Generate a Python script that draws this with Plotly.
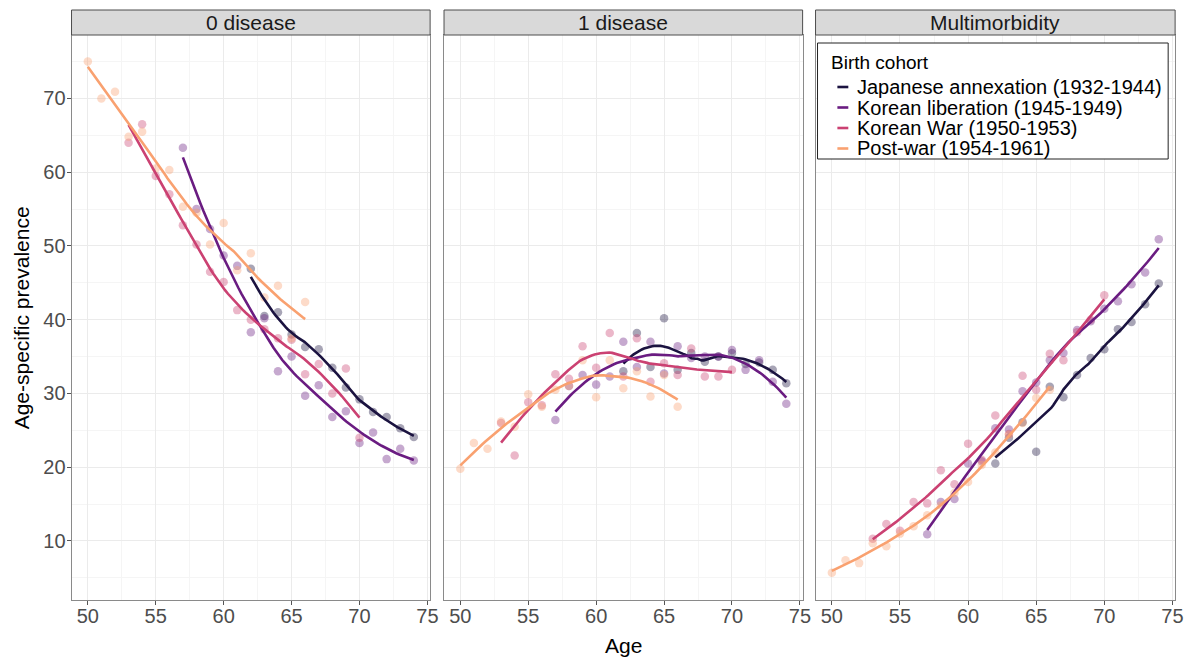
import numpy as np
import plotly.graph_objects as go

# ---------------- data ----------------
cohorts = ["Japanese annexation (1932-1944)", "Korean liberation (1945-1949)",
           "Korean War (1950-1953)", "Post-war (1954-1961)"]
colors = ["#1B1340", "#6A1C81", "#CB4172", "#F9A170"]
panels = ["0 disease", "1 disease", "Multimorbidity"]

ages_jap = list(range(62, 75))
ages_lib = list(range(57, 75))
ages_war = list(range(53, 71))
ages_post = list(range(50, 67))

# 0 disease
d0_jap = [46.9, 40.5, 41.0, 38.0, 36.3, 36.0, 33.5, 30.8, 29.2, 27.5, 26.8, 25.3, 24.1]
d0_lib = [63.3, 55.0, 52.3, 48.7, 47.3, 38.3, 40.2, 33.0, 35.0, 29.7, 31.1, 26.8, 27.6,
          23.3, 24.7, 21.1, 22.5, 20.9]
d0_war = [64.0, 66.5, 59.5, 57.0, 52.8, 50.2, 46.5, 45.1, 41.3, 40.0, 38.7, 37.5, 37.3,
          32.6, 34.0, 30.0, 33.4, 24.0]
d0_post = [75.0, 70.0, 70.9, 64.8, 65.5, 60.5, 60.3, 55.3, 54.5, 50.2, 53.1, 46.7, 49.0,
           43.0, 44.6, 37.5, 42.4]

# 1 disease
d1_jap = [33.0, 38.2, 33.6, 40.2, 33.2, 35.5, 34.3, 35.0, 35.5, 34.0, 34.2, 33.2, 31.4]
d1_lib = [26.4, 31.0, 32.5, 31.2, 32.3, 37.0, 33.6, 37.0, 32.7, 36.4, 34.8, 35.0, 35.0,
          35.9, 33.2, 34.5, 31.6, 28.6]
d1_war = [26.0, 21.6, 28.8, 28.4, 32.6, 32.0, 36.4, 33.5, 38.2, 32.3, 37.5, 31.6, 34.1,
          32.5, 36.1, 32.3, 32.3, 33.2]
d1_post = [19.8, 23.3, 22.5, 26.2, 25.5, 29.9, 28.2, 30.5, 31.0, 34.5, 29.5, 34.5, 30.7,
           33.0, 29.6, 32.5, 28.2]

# Multimorbidity
dm_jap = [20.5, 24.0, 26.1, 22.1, 30.9, 29.5, 32.5, 34.8, 36.0, 38.7, 39.7, 42.1, 44.9]
dm_lib = [10.9, 15.3, 15.7, 20.5, 20.8, 25.3, 25.1, 30.3, 31.5, 34.5, 35.5, 38.6, 39.8,
          41.5, 42.5, 44.8, 46.4, 50.9]
dm_war = [10.3, 12.3, 11.4, 15.3, 15.1, 19.6, 17.7, 23.2, 21.0, 27.0, 24.5, 32.4, 30.5,
          35.4, 34.5, 38.3, 40.0, 43.3]
dm_post = [5.7, 7.4, 7.0, 9.7, 9.3, 11.0, 12.0, 13.5, 14.8, 16.5, 18.0, 20.3, 22.0,
           24.4, 26.0, 29.4, 30.5]

x_ticks = [50, 55, 60, 65, 70, 75]
y_ticks = [10, 20, 30, 40, 50, 60, 70]

ages = [ages_jap, ages_lib, ages_war, ages_post]
values = [
    [d0_jap, d0_lib, d0_war, d0_post],
    [d1_jap, d1_lib, d1_war, d1_post],
    [dm_jap, dm_lib, dm_war, dm_post],
]


def loess(x, y, xs, span=0.75, degree=2):
    x = np.asarray(x, float)
    y = np.asarray(y, float)
    n = len(x)
    q = int(np.floor(n * span))
    out = []
    for x0 in xs:
        d = np.abs(x - x0)
        h = np.sort(d)[q - 1]
        w = np.clip(1 - (d / h) ** 3, 0, None) ** 3
        X = np.vander(x - x0, degree + 1, increasing=True)
        Wm = np.diag(w)
        beta = np.linalg.lstsq(X.T @ Wm @ X, X.T @ Wm @ y, rcond=None)[0]
        out.append(beta[0])
    return np.array(out)


# ---------------- figure ----------------
W, H = 1201, 659
px = lambda v: v / W
py = lambda v: (H - v) / H

dom_x = [(72, 433), (447, 808), (821, 1183)]
top, bottom = 35, 600
strip_top = 10
FONT = "Liberation Sans, Arial, sans-serif"

fig = go.Figure()

for p in range(3):
    xa = "x" if p == 0 else f"x{p + 1}"
    ya = "y" if p == 0 else f"y{p + 1}"
    for c in range(4):
        fig.add_trace(go.Scatter(
            x=ages[c], y=values[p][c], mode="markers",
            marker=dict(color=colors[c], size=8.5, opacity=0.38, line=dict(width=0)),
            xaxis=xa, yaxis=ya, showlegend=False, hoverinfo="skip"))
    for c in range(4):
        xs = np.linspace(min(ages[c]), max(ages[c]), 80)
        ys = loess(ages[c], values[p][c], xs)
        fig.add_trace(go.Scatter(
            x=xs, y=ys, mode="lines",
            line=dict(color=colors[c], width=2.6),
            xaxis=xa, yaxis=ya, name=cohorts[c], showlegend=False))

axis_common = dict(
    showline=True, mirror=True, linecolor="#8A8A8A", linewidth=1,
    showgrid=True, gridcolor="#EBEBEB", gridwidth=1, zeroline=False,
    ticks="outside", ticklen=4, tickcolor="#555555",
    tickfont=dict(family=FONT, size=20, color="#4D4D4D"),
)

layout = dict(
    width=W, height=H, margin=dict(l=0, r=0, t=0, b=0),
    plot_bgcolor="white", paper_bgcolor="white",
    font=dict(family=FONT), showlegend=False,
)
for p in range(3):
    xk = "xaxis" if p == 0 else f"xaxis{p + 1}"
    yk = "yaxis" if p == 0 else f"yaxis{p + 1}"
    x0, x1 = dom_x[p]
    layout[xk] = dict(
        axis_common, domain=[px(x0), px(x1)], range=[48.8, 75.2],
        tickmode="array", tickvals=x_ticks, ticktext=[str(t) for t in x_ticks],
        anchor="y" if p == 0 else f"y{p + 1}", ticklabelstandoff=-6,
        minor=dict(dtick=2.5, tick0=50, showgrid=True, gridcolor="#F5F5F5", ticks=""),
    )
    layout[yk] = dict(
        axis_common, domain=[py(bottom), py(top)], range=[2.0, 78.6],
        tickmode="array", tickvals=y_ticks,
        ticktext=[str(t) for t in y_ticks] if p == 0 else [""] * len(y_ticks),
        ticks="outside" if p == 0 else "", ticklabelstandoff=-3,
        anchor="x" if p == 0 else f"x{p + 1}",
        minor=dict(dtick=5, tick0=5, showgrid=True, gridcolor="#F5F5F5", ticks=""),
    )

fig.update_layout(**layout)

shapes = []
annotations = []
for p in range(3):
    x0, x1 = dom_x[p]
    shapes.append(dict(type="rect", xref="paper", yref="paper",
                       x0=px(x0), x1=px(x1), y0=py(top), y1=py(strip_top),
                       fillcolor="#D9D9D9", line=dict(color="#4D4D4D", width=1)))
    annotations.append(dict(text=panels[p], xref="paper", yref="paper",
                            x=px((x0 + x1) / 2), y=py((top + strip_top) / 2 + 0.5),
                            showarrow=False, xanchor="center", yanchor="middle",
                            font=dict(family=FONT, size=21, color="#1A1A1A")))

annotations.append(dict(text="Age-specific prevalence", xref="paper", yref="paper",
                        x=px(22), y=py((top + bottom) / 2), textangle=-90,
                        showarrow=False, xanchor="center", yanchor="middle",
                        font=dict(family=FONT, size=21, color="black")))
annotations.append(dict(text="Age", xref="paper", yref="paper",
                        x=px(628), y=py(645), showarrow=False,
                        xanchor="center", yanchor="middle",
                        font=dict(family=FONT, size=21, color="black")))

# ---- legend (drawn inside the Multimorbidity panel, like ggplot) ----
leg_x0, leg_x1, leg_y0, leg_y1 = 823, 1176, 43, 159
shapes.append(dict(type="rect", xref="paper", yref="paper",
                   x0=px(leg_x0), x1=px(leg_x1), y0=py(leg_y1), y1=py(leg_y0),
                   fillcolor="white", line=dict(color="#222222", width=1), layer="above"))
annotations.append(dict(text="Birth cohort", xref="paper", yref="paper",
                        x=px(835), y=py(62), showarrow=False,
                        xanchor="left", yanchor="middle",
                        font=dict(family=FONT, size=19, color="black")))
item_y = [87, 107.5, 128, 148.5]
for c in range(4):
    shapes.append(dict(type="line", xref="paper", yref="paper",
                       x0=px(843), x1=px(854), y0=py(item_y[c]), y1=py(item_y[c]),
                       line=dict(color=colors[c], width=2.6), layer="above"))
    annotations.append(dict(text=cohorts[c], xref="paper", yref="paper",
                            x=px(861), y=py(item_y[c]), showarrow=False,
                            xanchor="left", yanchor="middle",
                            font=dict(family=FONT, size=20, color="black")))

fig.update_layout(shapes=shapes, annotations=annotations)

fig.write_html("out.html")
